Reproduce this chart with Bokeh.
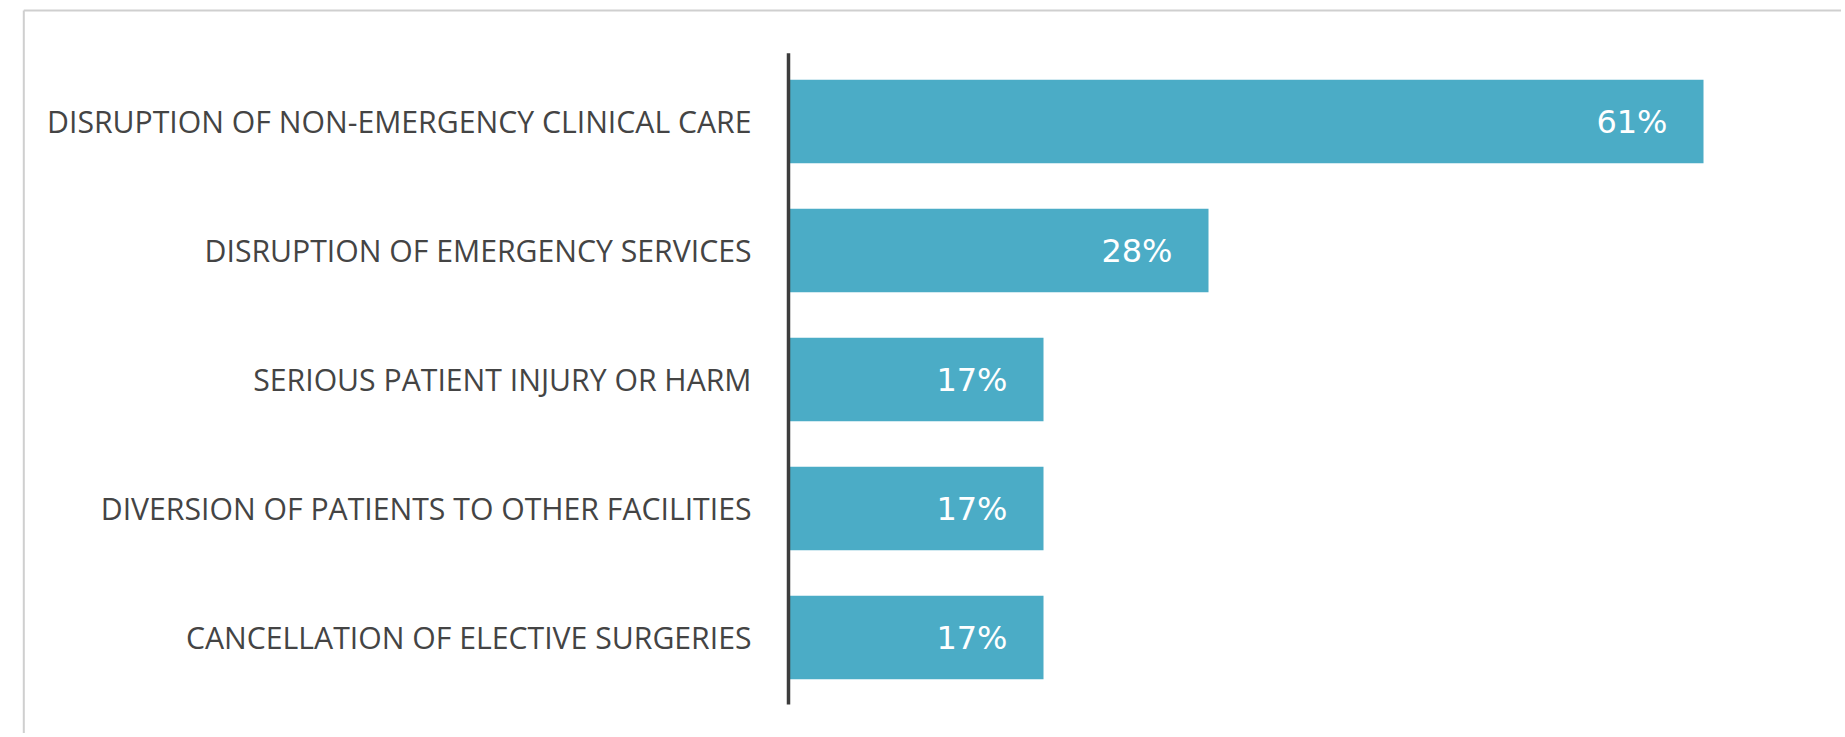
from bokeh.plotting import figure
from bokeh.models import Range1d, ColumnDataSource
from bokeh.core.properties import value
from bokeh.embed import file_html
from bokeh.resources import INLINE

# ---- data ----
categories = [
    "DISRUPTION OF NON-EMERGENCY CLINICAL CARE",
    "DISRUPTION OF EMERGENCY SERVICES",
    "SERIOUS PATIENT INJURY OR HARM",
    "DIVERSION OF PATIENTS TO OTHER FACILITIES",
    "CANCELLATION OF ELECTIVE SURGERIES",
]
values = [61, 28, 17, 17, 17]
value_labels = [f"{v}%" for v in values]

# ---- layout constants (pixels) ----
W, H = 1841, 733
PX_PER_PCT = 15.0        # horizontal pixels per percentage point
ZERO_PX = 788            # x pixel of the 0 baseline (the vertical axis line)
ROW_PX = 129             # pixels per category row
FIRST_ROW_PX = 121       # y pixel of the first category centre
BORDER_LEFT_PX = 23.3
BORDER_TOP_PX = 10.0

x_range = Range1d(-ZERO_PX / PX_PER_PCT, (W - ZERO_PX) / PX_PER_PCT)
# y is category index, 0 at the top (range flipped)
y_range = Range1d((H - FIRST_ROW_PX) / ROW_PX, -FIRST_ROW_PX / ROW_PX)

n = len(categories)
src = ColumnDataSource(dict(
    y=list(range(n)),
    cat=categories,
    value=values,
    label=value_labels,
))

p = figure(width=W, height=H, x_range=x_range, y_range=y_range,
           output_backend="svg", toolbar_location=None,
           x_axis_location=None, y_axis_location=None,
           min_border=0, min_border_left=0, min_border_right=0,
           min_border_top=0, min_border_bottom=0)
p.grid.visible = False
p.outline_line_color = None
p.background_fill_color = "white"
p.border_fill_color = "white"

# frame border lines (light grey, top and left)
x_border = x_range.start + BORDER_LEFT_PX / PX_PER_PCT
y_border = y_range.end + BORDER_TOP_PX / ROW_PX
p.segment(x0=[x_border, x_border], y0=[y_border, y_border],
          x1=[x_border, x_range.end], y1=[y_range.start, y_border],
          line_color="#cfcfcf", line_width=2)

# bars
p.hbar(y="y", left=0, right="value", height=0.646, source=src,
       fill_color="#4BACC6", line_color=None)

# vertical category axis line
p.segment(x0=0, y0=-0.53, x1=0, y1=(n - 1) + 0.52,
          line_color="#3c3c3c", line_width=3.5)

# category labels
p.text(x=0, y="y", text="cat", source=src, x_offset=-37,
       text_align="right", text_baseline="middle",
       text_font=value("Open Sans"), text_font_size=value("30.2px"),
       text_color="#444444")

# value labels inside bar ends
p.text(x="value", y="y", text="label", source=src, x_offset=-36,
       text_align="right", text_baseline="middle",
       text_font=value("DejaVu Sans"), text_font_size=value("32px"),
       text_color="white")

open("out.html", "w").write(file_html(p, INLINE))
